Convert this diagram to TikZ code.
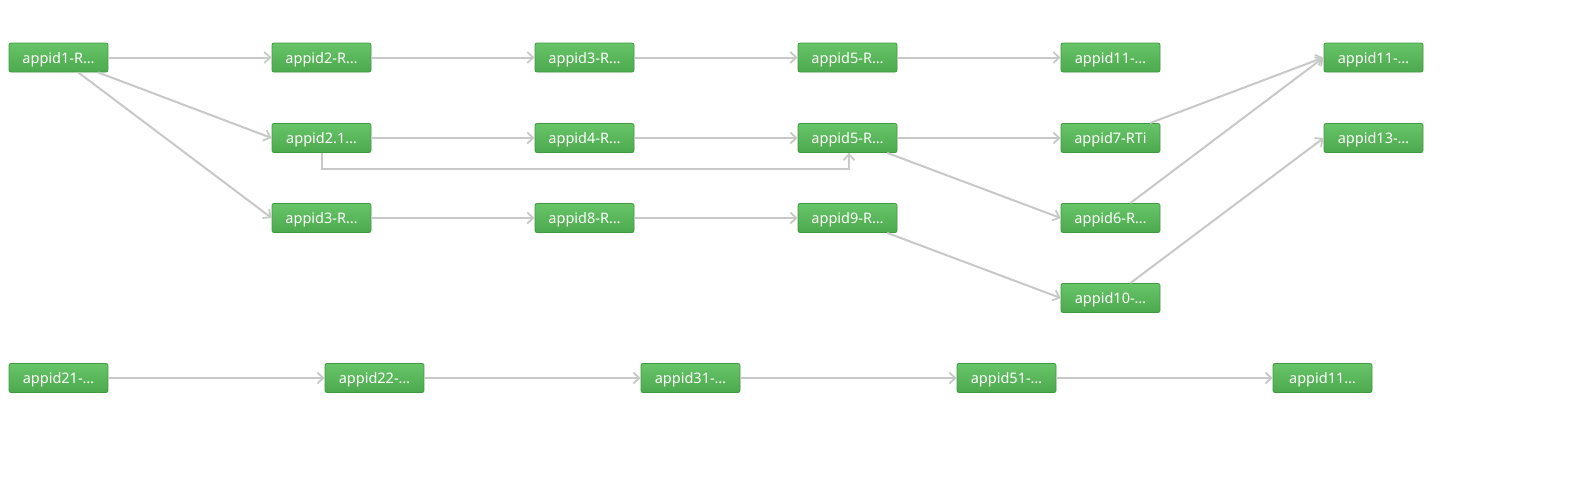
\documentclass[tikz,border=0pt]{standalone}
\usepackage{fontspec}
\setmainfont{Noto Sans}
\usepackage{tikz}
\usetikzlibrary{arrows.meta}

\definecolor{boxtop}{HTML}{68C468}
\definecolor{boxbottom}{HTML}{4DA94D}
\definecolor{boxline}{HTML}{3F9A3F}
\definecolor{linkgray}{HTML}{C8C8C8}

\tikzset{
  appbox/.style={rectangle, rounded corners=2pt, draw=boxline, line width=0.8pt,
    top color=boxtop, bottom color=boxbottom, text=white,
    minimum width=99pt, minimum height=29pt, inner sep=0pt,
    text height=13pt, text depth=2pt,
    font=\fontsize{14.5}{16}\selectfont},
  link/.style={draw=linkgray, line width=2pt,
    -{Straight Barb[length=6pt,width=11pt,line width=1.8pt]}}
}

\begin{document}
\begin{tikzpicture}[x=1pt,y=-1pt]
            \useasboundingbox (0,0) rectangle (1585,480);

            % Ligne 1
            \node[appbox] (a1)   at (58.5,57.5)   {appid1-R…};
            \node[appbox] (a2)   at (321.5,57.5)  {appid2-R…};
            \node[appbox] (a3)   at (584.5,57.5)  {appid3-R…};
            \node[appbox] (a5)   at (847.5,57.5)  {appid5-R…};
            \node[appbox] (a11)  at (1110.5,57.5) {appid11-…};
            \node[appbox] (a11b) at (1373.5,57.5) {appid11-…};

            % Ligne 2
            \node[appbox] (a21)  at (321.5,138)   {appid2.1…};
            \node[appbox] (a4)   at (584.5,138)   {appid4-R…};
            \node[appbox] (a5b)  at (847.5,138)   {appid5-R…};
            \node[appbox] (a7)   at (1110.5,138)  {appid7-RTi};
            \node[appbox] (a13)  at (1373.5,138)  {appid13-…};

            % Ligne 3
            \node[appbox] (a3b)  at (321.5,218)   {appid3-R…};
            \node[appbox] (a8)   at (584.5,218)   {appid8-R…};
            \node[appbox] (a9)   at (847.5,218)   {appid9-R…};
            \node[appbox] (a6)   at (1110.5,218)  {appid6-R…};

            % Ligne 4
            \node[appbox] (a10)  at (1110.5,298)  {appid10-…};

            % Seconde chaine
            \node[appbox] (b21)  at (58.5,378)    {appid21-…};
            \node[appbox] (b22)  at (374.5,378)   {appid22-…};
            \node[appbox] (b31)  at (690.5,378)   {appid31-…};
            \node[appbox] (b51)  at (1006.5,378)  {appid51-…};
            \node[appbox] (b11)  at (1322.5,378)  {appid11…};

            % Liens
            \draw[link] (a1) -- (a2.west);
            \draw[link] (a1) -- (a21.west);
            \draw[link] (a1) -- (a3b.west);
            \draw[link] (a2) -- (a3.west);
            \draw[link] (a3) -- (a5.west);
            \draw[link] (a5) -- (a11.west);
            \draw[link] (a21) -- (a4.west);
            \draw[link] (a4) -- (a5b.west);
            \draw[link] (a21.south) -- ++(0,16) -| ([xshift=1.5pt]a5b.south);
            \draw[link] (a5b) -- (a7.west);
            \draw[link] (a5b) -- (a6.west);
            \draw[link] (a3b) -- (a8.west);
            \draw[link] (a8) -- (a9.west);
            \draw[link] (a9) -- (a10.west);
            \draw[link] (a7) -- (a11b.west);
            \draw[link] (a6) -- (a11b.west);
            \draw[link] (a10) -- (a13.west);
            \draw[link] (b21) -- (b22.west);
            \draw[link] (b22) -- (b31.west);
            \draw[link] (b31) -- (b51.west);
            \draw[link] (b51) -- (b11.west);
        \end{tikzpicture}
\end{document}
